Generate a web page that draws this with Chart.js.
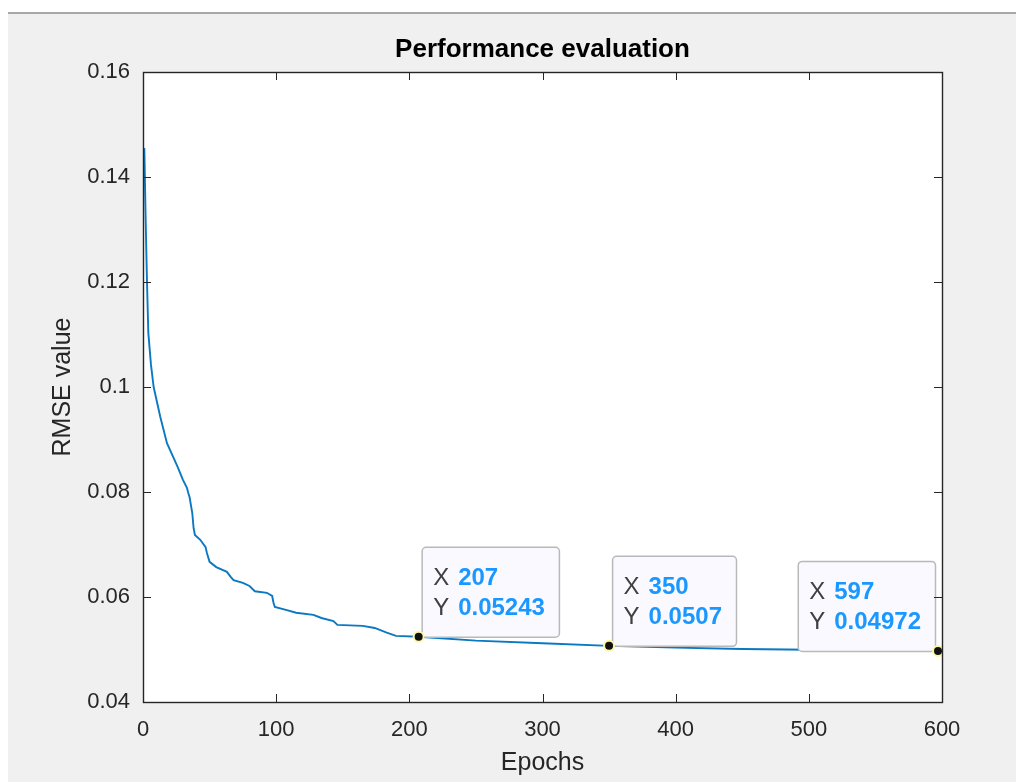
<!DOCTYPE html>
<html><head><meta charset="utf-8">
<script src="https://cdn.jsdelivr.net/npm/chart.js@4/dist/chart.umd.min.js"></script>
<style>
html,body{margin:0;padding:0;background:#fff;width:1016px;height:782px;overflow:hidden}
#bg{position:absolute;left:8px;top:12px;right:0;bottom:0;background:#f0f0f0;border-top:2px solid #a8a8a8}
#wrap{position:absolute;left:0;top:0;width:1016px;height:782px}
</style></head><body>
<div id="bg"></div>
<div id="wrap"><canvas id="c" width="1016" height="782"></canvas></div>
<script>
// ---- data ----
const epochs = [1, 2, 3, 4, 6, 8, 13, 18, 26, 30, 33, 34, 35, 37, 38, 39, 43, 47, 48, 50, 55, 63, 66, 68, 75, 80, 84, 93, 97, 98, 99, 108, 115, 128, 134, 143, 146, 165, 174, 183, 190, 207, 250, 300, 350, 400, 450, 500, 550, 597, 600];
const rmse = [0.1455, 0.1318, 0.1200, 0.1103, 0.1042, 0.1000, 0.0943, 0.0893, 0.0848, 0.0823, 0.0808, 0.0798, 0.0790, 0.0760, 0.0731, 0.0718, 0.0709, 0.0695, 0.0684, 0.0667, 0.0657, 0.0648, 0.0638, 0.0632, 0.0627, 0.0621, 0.0611, 0.0608, 0.0602, 0.0589, 0.0581, 0.0575, 0.0570, 0.0566, 0.0560, 0.0554, 0.0547, 0.0545, 0.0541, 0.0532, 0.0526, 0.05243, 0.0517, 0.0512, 0.0507, 0.05035, 0.0501, 0.04995, 0.04982, 0.04972, 0.04971];
const tipEpochs = [207, 350, 597];
const xTicks = [0, 100, 200, 300, 400, 500, 600];
const yTicks = [0.04, 0.06, 0.08, 0.1, 0.12, 0.14, 0.16];

const titleText = 'Performance evaluation';
const xTitle = 'Epochs';
const yTitle = 'RMSE value';

const FONT = "'Liberation Sans', Arial, Helvetica, sans-serif";
Chart.defaults.font.family = FONT;

const lineData = epochs.map((e, i) => ({x: e, y: rmse[i]}));
const tipData = tipEpochs.map(e => ({x: e, y: rmse[epochs.indexOf(e)]}));

function fmtTip(v) { return String(parseFloat(v.toPrecision(4))); }

const axesPlugin = {
  id: 'matlabAxes',
  beforeDraw(chart) {
    const {ctx, chartArea: a} = chart;
    ctx.save();
    ctx.fillStyle = '#ffffff';
    ctx.fillRect(a.left, a.top, a.right - a.left, a.bottom - a.top);
    ctx.restore();
  },
  afterDraw(chart) {
    const {ctx, chartArea: a, scales} = chart;
    const TL = 8;
    ctx.save();
    ctx.strokeStyle = '#262626';
    ctx.lineWidth = 1;
    ctx.beginPath();
    xTicks.forEach(v => {
      const p = Math.round(scales.x.getPixelForValue(v)) + 0.5;
      ctx.moveTo(p, a.bottom); ctx.lineTo(p, a.bottom - TL);
      ctx.moveTo(p, a.top); ctx.lineTo(p, a.top + TL);
    });
    yTicks.forEach(v => {
      const p = Math.round(scales.y.getPixelForValue(v)) + 0.5;
      ctx.moveTo(a.left, p); ctx.lineTo(a.left + TL, p);
      ctx.moveTo(a.right, p); ctx.lineTo(a.right - TL, p);
    });
    ctx.stroke();
    ctx.lineWidth = 1.4;
    ctx.strokeRect(Math.round(a.left) + 0.5, Math.round(a.top) + 0.5, Math.round(a.right - a.left), Math.round(a.bottom - a.top));
    ctx.restore();
  },
  afterDatasetDraw(chart, args) {
    if (args.index !== 0) return;
    const {ctx, chartArea: a, scales} = chart;
    ctx.save();
    tipData.forEach(pt => {
      const px = scales.x.getPixelForValue(pt.x);
      const py = scales.y.getPixelForValue(pt.y);
      const xs = String(pt.x), ys = fmtTip(pt.y);
      ctx.font = 'bold 24px ' + FONT;
      const w = 11.5 + 25 + Math.max(ctx.measureText(xs).width, ctx.measureText(ys).width) + 14;
      const h = 90;
      let left = px + 3;
      if (left + w > a.right) left = px - 3 - w;
      const top = py - 90;
      ctx.beginPath();
      ctx.roundRect(left + 0.5, top + 0.5, w, h, 4);
      ctx.fillStyle = '#f9f9ff';
      ctx.fill();
      ctx.strokeStyle = '#b9b9b9';
      ctx.lineWidth = 1.5;
      ctx.stroke();
      ctx.textBaseline = 'alphabetic';
      ctx.textAlign = 'left';
      ctx.font = '24px ' + FONT;
      ctx.fillStyle = '#404040';
      ctx.fillText('X', left + 11.5, top + 38);
      ctx.fillText('Y', left + 11.5, top + 68);
      ctx.font = 'bold 24px ' + FONT;
      ctx.fillStyle = '#1a98ff';
      ctx.fillText(xs, left + 36.5, top + 38);
      ctx.fillText(ys, left + 36.5, top + 68);
    });
    ctx.restore();
  }
};

new Chart(document.getElementById('c'), {
  type: 'scatter',
  data: {
    datasets: [
      {
        label: 'RMSE',
        data: lineData,
        showLine: true,
        borderColor: '#0a78c2',
        borderWidth: 1.9,
        pointRadius: 0,
        tension: 0,
        order: 2
      },
      {
        label: 'tips',
        data: tipData,
        showLine: false,
        pointRadius: 5,
        pointBackgroundColor: '#111111',
        pointBorderColor: '#fff6a8',
        pointBorderWidth: 2,
        order: 1
      }
    ]
  },
  options: {
    responsive: false,
    animation: false,
    devicePixelRatio: 1,
    layout: {padding: {left: 0, right: 74, top: 0, bottom: 0}},
    plugins: {legend: {display: false}, tooltip: {enabled: false}, title: {display: false}},
    scales: {
      x: {
        type: 'linear', position: 'bottom', min: 0, max: 600,
        afterBuildTicks: s => { s.ticks = xTicks.map(v => ({value: v})); },
        ticks: {font: {size: 22}, color: '#262626', padding: 15, maxRotation: 0, autoSkip: false},
        grid: {display: false, drawTicks: false},
        border: {display: false},
        title: {display: true, text: xTitle, font: {size: 25}, color: '#262626', padding: {top: 0, bottom: 4}},
        afterFit: s => { s.height = 80; }
      },
      x2: {
        type: 'linear', position: 'top', min: 0, max: 600,
        ticks: {display: false},
        grid: {display: false, drawTicks: false},
        border: {display: false},
        title: {display: true, text: titleText, font: {size: 26, weight: 'bold'}, color: '#000000', padding: {top: 34, bottom: 0}},
        afterFit: s => { s.height = 72; }
      },
      y: {
        type: 'linear', position: 'left', min: 0.04, max: 0.16,
        afterBuildTicks: s => { s.ticks = yTicks.map(v => ({value: v})); },
        ticks: {font: {size: 22}, color: '#262626', padding: 13, autoSkip: false,
          callback: v => String(parseFloat(v.toFixed(2)))},
        grid: {display: false, drawTicks: false},
        border: {display: false},
        title: {display: true, text: yTitle, font: {size: 25}, color: '#262626', padding: {top: 48, bottom: 0}},
        afterFit: s => { s.width = 143; }
      }
    }
  },
  plugins: [axesPlugin]
});
</script>
</body></html>
